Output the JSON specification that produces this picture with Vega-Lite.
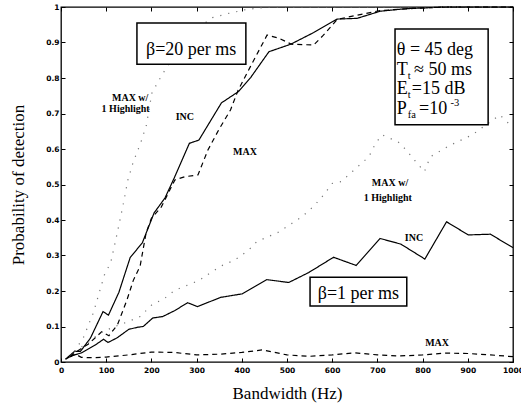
{
  "$schema": "https://vega.github.io/schema/vega-lite/v6.json",
  "width": 452,
  "height": 355,
  "autosize": {"type": "none"},
  "padding": {"left": 61, "top": 7, "right": 8, "bottom": 48},
  "background": "white",
  "config": {
    "view": {"stroke": "black", "strokeWidth": 1.3},
    "font": "Liberation Serif"
  },
  "datasets": {
    "curves": [
      {"beta": "20", "method": "INC", "bw": 10, "pd": 0.008},
      {"beta": "20", "method": "INC", "bw": 30, "pd": 0.03},
      {"beta": "20", "method": "INC", "bw": 43, "pd": 0.03},
      {"beta": "20", "method": "INC", "bw": 65, "pd": 0.067},
      {"beta": "20", "method": "INC", "bw": 93, "pd": 0.142},
      {"beta": "20", "method": "INC", "bw": 105, "pd": 0.132},
      {"beta": "20", "method": "INC", "bw": 128, "pd": 0.196},
      {"beta": "20", "method": "INC", "bw": 153, "pd": 0.294},
      {"beta": "20", "method": "INC", "bw": 180, "pd": 0.336},
      {"beta": "20", "method": "INC", "bw": 206, "pd": 0.42},
      {"beta": "20", "method": "INC", "bw": 230, "pd": 0.462},
      {"beta": "20", "method": "INC", "bw": 250, "pd": 0.517},
      {"beta": "20", "method": "INC", "bw": 284, "pd": 0.616},
      {"beta": "20", "method": "INC", "bw": 305, "pd": 0.625},
      {"beta": "20", "method": "INC", "bw": 355, "pd": 0.73},
      {"beta": "20", "method": "INC", "bw": 393, "pd": 0.762},
      {"beta": "20", "method": "INC", "bw": 420, "pd": 0.802},
      {"beta": "20", "method": "INC", "bw": 460, "pd": 0.874},
      {"beta": "20", "method": "INC", "bw": 508, "pd": 0.895},
      {"beta": "20", "method": "INC", "bw": 559, "pd": 0.928},
      {"beta": "20", "method": "INC", "bw": 611, "pd": 0.966},
      {"beta": "20", "method": "INC", "bw": 655, "pd": 0.968},
      {"beta": "20", "method": "INC", "bw": 706, "pd": 0.988},
      {"beta": "20", "method": "INC", "bw": 760, "pd": 0.995},
      {"beta": "20", "method": "INC", "bw": 850, "pd": 1.0},
      {"beta": "20", "method": "INC", "bw": 1000, "pd": 1.0},

      {"beta": "20", "method": "MAX", "bw": 20, "pd": 0.015},
      {"beta": "20", "method": "MAX", "bw": 35, "pd": 0.03},
      {"beta": "20", "method": "MAX", "bw": 60, "pd": 0.05},
      {"beta": "20", "method": "MAX", "bw": 90, "pd": 0.085},
      {"beta": "20", "method": "MAX", "bw": 106, "pd": 0.074},
      {"beta": "20", "method": "MAX", "bw": 125, "pd": 0.105},
      {"beta": "20", "method": "MAX", "bw": 146, "pd": 0.175},
      {"beta": "20", "method": "MAX", "bw": 160, "pd": 0.23},
      {"beta": "20", "method": "MAX", "bw": 175, "pd": 0.27},
      {"beta": "20", "method": "MAX", "bw": 188, "pd": 0.362},
      {"beta": "20", "method": "MAX", "bw": 200, "pd": 0.405},
      {"beta": "20", "method": "MAX", "bw": 222, "pd": 0.437},
      {"beta": "20", "method": "MAX", "bw": 252, "pd": 0.513},
      {"beta": "20", "method": "MAX", "bw": 274, "pd": 0.522},
      {"beta": "20", "method": "MAX", "bw": 303, "pd": 0.527},
      {"beta": "20", "method": "MAX", "bw": 325, "pd": 0.597},
      {"beta": "20", "method": "MAX", "bw": 349, "pd": 0.654},
      {"beta": "20", "method": "MAX", "bw": 375, "pd": 0.71},
      {"beta": "20", "method": "MAX", "bw": 392, "pd": 0.766},
      {"beta": "20", "method": "MAX", "bw": 419, "pd": 0.832},
      {"beta": "20", "method": "MAX", "bw": 456, "pd": 0.921},
      {"beta": "20", "method": "MAX", "bw": 482, "pd": 0.912},
      {"beta": "20", "method": "MAX", "bw": 510, "pd": 0.895},
      {"beta": "20", "method": "MAX", "bw": 559, "pd": 0.893},
      {"beta": "20", "method": "MAX", "bw": 580, "pd": 0.92},
      {"beta": "20", "method": "MAX", "bw": 611, "pd": 0.965},
      {"beta": "20", "method": "MAX", "bw": 655, "pd": 0.977},
      {"beta": "20", "method": "MAX", "bw": 706, "pd": 0.99},
      {"beta": "20", "method": "MAX", "bw": 780, "pd": 0.996},
      {"beta": "20", "method": "MAX", "bw": 850, "pd": 1.0},
      {"beta": "20", "method": "MAX", "bw": 1000, "pd": 1.0},

      {"beta": "20", "method": "MAX w/ 1 Highlight", "bw": 30, "pd": 0.03},
      {"beta": "20", "method": "MAX w/ 1 Highlight", "bw": 50, "pd": 0.07},
      {"beta": "20", "method": "MAX w/ 1 Highlight", "bw": 72, "pd": 0.14},
      {"beta": "20", "method": "MAX w/ 1 Highlight", "bw": 96, "pd": 0.245},
      {"beta": "20", "method": "MAX w/ 1 Highlight", "bw": 110, "pd": 0.28},
      {"beta": "20", "method": "MAX w/ 1 Highlight", "bw": 123, "pd": 0.355},
      {"beta": "20", "method": "MAX w/ 1 Highlight", "bw": 137, "pd": 0.44},
      {"beta": "20", "method": "MAX w/ 1 Highlight", "bw": 148, "pd": 0.513},
      {"beta": "20", "method": "MAX w/ 1 Highlight", "bw": 159, "pd": 0.56},
      {"beta": "20", "method": "MAX w/ 1 Highlight", "bw": 177, "pd": 0.62},
      {"beta": "20", "method": "MAX w/ 1 Highlight", "bw": 189, "pd": 0.668},
      {"beta": "20", "method": "MAX w/ 1 Highlight", "bw": 201, "pd": 0.757},
      {"beta": "20", "method": "MAX w/ 1 Highlight", "bw": 215, "pd": 0.79},
      {"beta": "20", "method": "MAX w/ 1 Highlight", "bw": 250, "pd": 0.865},
      {"beta": "20", "method": "MAX w/ 1 Highlight", "bw": 282, "pd": 0.915},
      {"beta": "20", "method": "MAX w/ 1 Highlight", "bw": 312, "pd": 0.949},
      {"beta": "20", "method": "MAX w/ 1 Highlight", "bw": 335, "pd": 0.97},
      {"beta": "20", "method": "MAX w/ 1 Highlight", "bw": 371, "pd": 0.982},
      {"beta": "20", "method": "MAX w/ 1 Highlight", "bw": 410, "pd": 0.993},
      {"beta": "20", "method": "MAX w/ 1 Highlight", "bw": 460, "pd": 1.0},
      {"beta": "20", "method": "MAX w/ 1 Highlight", "bw": 1000, "pd": 1.0},

      {"beta": "1", "method": "INC", "bw": 10, "pd": 0.008},
      {"beta": "1", "method": "INC", "bw": 25, "pd": 0.018},
      {"beta": "1", "method": "INC", "bw": 46, "pd": 0.026},
      {"beta": "1", "method": "INC", "bw": 76, "pd": 0.048},
      {"beta": "1", "method": "INC", "bw": 94, "pd": 0.064},
      {"beta": "1", "method": "INC", "bw": 104, "pd": 0.055},
      {"beta": "1", "method": "INC", "bw": 124, "pd": 0.068},
      {"beta": "1", "method": "INC", "bw": 150, "pd": 0.092},
      {"beta": "1", "method": "INC", "bw": 170, "pd": 0.098},
      {"beta": "1", "method": "INC", "bw": 182, "pd": 0.1},
      {"beta": "1", "method": "INC", "bw": 203, "pd": 0.124},
      {"beta": "1", "method": "INC", "bw": 225, "pd": 0.128},
      {"beta": "1", "method": "INC", "bw": 252, "pd": 0.145},
      {"beta": "1", "method": "INC", "bw": 280, "pd": 0.167},
      {"beta": "1", "method": "INC", "bw": 302, "pd": 0.156},
      {"beta": "1", "method": "INC", "bw": 353, "pd": 0.182},
      {"beta": "1", "method": "INC", "bw": 401, "pd": 0.192},
      {"beta": "1", "method": "INC", "bw": 455, "pd": 0.232},
      {"beta": "1", "method": "INC", "bw": 504, "pd": 0.224},
      {"beta": "1", "method": "INC", "bw": 548, "pd": 0.252},
      {"beta": "1", "method": "INC", "bw": 603, "pd": 0.295},
      {"beta": "1", "method": "INC", "bw": 653, "pd": 0.272},
      {"beta": "1", "method": "INC", "bw": 706, "pd": 0.348},
      {"beta": "1", "method": "INC", "bw": 752, "pd": 0.332},
      {"beta": "1", "method": "INC", "bw": 805, "pd": 0.29},
      {"beta": "1", "method": "INC", "bw": 853, "pd": 0.395},
      {"beta": "1", "method": "INC", "bw": 901, "pd": 0.358},
      {"beta": "1", "method": "INC", "bw": 950, "pd": 0.36},
      {"beta": "1", "method": "INC", "bw": 1000, "pd": 0.322},

      {"beta": "1", "method": "MAX", "bw": 20, "pd": 0.015},
      {"beta": "1", "method": "MAX", "bw": 32, "pd": 0.022},
      {"beta": "1", "method": "MAX", "bw": 45, "pd": 0.013},
      {"beta": "1", "method": "MAX", "bw": 70, "pd": 0.012},
      {"beta": "1", "method": "MAX", "bw": 100, "pd": 0.014},
      {"beta": "1", "method": "MAX", "bw": 150, "pd": 0.02},
      {"beta": "1", "method": "MAX", "bw": 200, "pd": 0.028},
      {"beta": "1", "method": "MAX", "bw": 250, "pd": 0.027},
      {"beta": "1", "method": "MAX", "bw": 300, "pd": 0.02},
      {"beta": "1", "method": "MAX", "bw": 350, "pd": 0.022},
      {"beta": "1", "method": "MAX", "bw": 400, "pd": 0.027},
      {"beta": "1", "method": "MAX", "bw": 445, "pd": 0.034},
      {"beta": "1", "method": "MAX", "bw": 500, "pd": 0.02},
      {"beta": "1", "method": "MAX", "bw": 550, "pd": 0.016},
      {"beta": "1", "method": "MAX", "bw": 600, "pd": 0.02},
      {"beta": "1", "method": "MAX", "bw": 650, "pd": 0.026},
      {"beta": "1", "method": "MAX", "bw": 700, "pd": 0.02},
      {"beta": "1", "method": "MAX", "bw": 750, "pd": 0.017},
      {"beta": "1", "method": "MAX", "bw": 800, "pd": 0.02},
      {"beta": "1", "method": "MAX", "bw": 850, "pd": 0.025},
      {"beta": "1", "method": "MAX", "bw": 900, "pd": 0.024},
      {"beta": "1", "method": "MAX", "bw": 950, "pd": 0.02},
      {"beta": "1", "method": "MAX", "bw": 1000, "pd": 0.015},

      {"beta": "1", "method": "MAX w/ 1 Highlight", "bw": 30, "pd": 0.03},
      {"beta": "1", "method": "MAX w/ 1 Highlight", "bw": 60, "pd": 0.055},
      {"beta": "1", "method": "MAX w/ 1 Highlight", "bw": 85, "pd": 0.08},
      {"beta": "1", "method": "MAX w/ 1 Highlight", "bw": 115, "pd": 0.098},
      {"beta": "1", "method": "MAX w/ 1 Highlight", "bw": 147, "pd": 0.113},
      {"beta": "1", "method": "MAX w/ 1 Highlight", "bw": 175, "pd": 0.128},
      {"beta": "1", "method": "MAX w/ 1 Highlight", "bw": 204, "pd": 0.165},
      {"beta": "1", "method": "MAX w/ 1 Highlight", "bw": 225, "pd": 0.175},
      {"beta": "1", "method": "MAX w/ 1 Highlight", "bw": 252, "pd": 0.202},
      {"beta": "1", "method": "MAX w/ 1 Highlight", "bw": 306, "pd": 0.23},
      {"beta": "1", "method": "MAX w/ 1 Highlight", "bw": 330, "pd": 0.251},
      {"beta": "1", "method": "MAX w/ 1 Highlight", "bw": 355, "pd": 0.271},
      {"beta": "1", "method": "MAX w/ 1 Highlight", "bw": 384, "pd": 0.287},
      {"beta": "1", "method": "MAX w/ 1 Highlight", "bw": 415, "pd": 0.315},
      {"beta": "1", "method": "MAX w/ 1 Highlight", "bw": 433, "pd": 0.339},
      {"beta": "1", "method": "MAX w/ 1 Highlight", "bw": 480, "pd": 0.365},
      {"beta": "1", "method": "MAX w/ 1 Highlight", "bw": 534, "pd": 0.41},
      {"beta": "1", "method": "MAX w/ 1 Highlight", "bw": 560, "pd": 0.44},
      {"beta": "1", "method": "MAX w/ 1 Highlight", "bw": 582, "pd": 0.472},
      {"beta": "1", "method": "MAX w/ 1 Highlight", "bw": 600, "pd": 0.503},
      {"beta": "1", "method": "MAX w/ 1 Highlight", "bw": 620, "pd": 0.508},
      {"beta": "1", "method": "MAX w/ 1 Highlight", "bw": 652, "pd": 0.545},
      {"beta": "1", "method": "MAX w/ 1 Highlight", "bw": 681, "pd": 0.578},
      {"beta": "1", "method": "MAX w/ 1 Highlight", "bw": 696, "pd": 0.616},
      {"beta": "1", "method": "MAX w/ 1 Highlight", "bw": 710, "pd": 0.64},
      {"beta": "1", "method": "MAX w/ 1 Highlight", "bw": 746, "pd": 0.62},
      {"beta": "1", "method": "MAX w/ 1 Highlight", "bw": 764, "pd": 0.597},
      {"beta": "1", "method": "MAX w/ 1 Highlight", "bw": 785, "pd": 0.564},
      {"beta": "1", "method": "MAX w/ 1 Highlight", "bw": 804, "pd": 0.536},
      {"beta": "1", "method": "MAX w/ 1 Highlight", "bw": 817, "pd": 0.578},
      {"beta": "1", "method": "MAX w/ 1 Highlight", "bw": 860, "pd": 0.61},
      {"beta": "1", "method": "MAX w/ 1 Highlight", "bw": 910, "pd": 0.64},
      {"beta": "1", "method": "MAX w/ 1 Highlight", "bw": 971, "pd": 0.696},
      {"beta": "1", "method": "MAX w/ 1 Highlight", "bw": 1000, "pd": 0.66}
    ],
    "boxes": [
      {"name": "beta20", "x0": 168, "x1": 409, "y0": 0.839, "y1": 0.955},
      {"name": "beta1", "x0": 551, "x1": 765, "y0": 0.158, "y1": 0.239},
      {"name": "params", "x0": 739, "x1": 945, "y0": 0.668, "y1": 0.938}
    ],
    "boxTitles": [
      {"label": "β=20 per ms", "bw": 288, "pd": 0.866},
      {"label": "β=1 per ms", "bw": 658, "pd": 0.177}
    ],
    "paramText": [
      {"label": "θ = 45 deg", "bw": 743, "pd": 0.864},
      {"label": "T", "bw": 743, "pd": 0.809},
      {"label": "≈ 50 ms", "bw": 781, "pd": 0.809},
      {"label": "E", "bw": 743, "pd": 0.756},
      {"label": "=15 dB", "bw": 776, "pd": 0.756},
      {"label": "P", "bw": 743, "pd": 0.700},
      {"label": "=10", "bw": 792, "pd": 0.700}
    ],
    "smallText": [
      {"label": "t", "bw": 767, "pd": 0.798},
      {"label": "t", "bw": 767, "pd": 0.745},
      {"label": "fa", "bw": 767, "pd": 0.687},
      {"label": "-3", "bw": 862, "pd": 0.722}
    ],
    "curveLabels": [
      {"label": "MAX w/", "bw": 153, "pd": 0.744},
      {"label": "1 Highlight", "bw": 143, "pd": 0.712},
      {"label": "INC", "bw": 274, "pd": 0.69},
      {"label": "MAX", "bw": 407, "pd": 0.592},
      {"label": "MAX w/", "bw": 728, "pd": 0.504},
      {"label": "1 Highlight", "bw": 723, "pd": 0.462},
      {"label": "INC", "bw": 781, "pd": 0.349},
      {"label": "MAX", "bw": 832, "pd": 0.054}
    ]
  },
  "resolve": {"axis": {"x": "independent", "y": "independent"}},
  "layer": [
    {
      "data": {"name": "curves"},
      "mark": {"type": "line", "strokeWidth": 1.2},
      "encoding": {
        "x": {
          "field": "bw", "type": "quantitative",
          "scale": {"domain": [0, 1000], "nice": false},
          "axis": {
            "title": "Bandwidth (Hz)", "values": [0, 100, 200, 300, 400, 500, 600, 700, 800, 900, 1000],
            "format": "d",
            "grid": false, "domain": false, "tickColor": "black", "tickSize": -4, "tickWidth": 1,
            "labelPadding": 8, "labelFont": "DejaVu Sans", "labelFontWeight": "bold", "labelFontSize": 7.5,
            "labelColor": "black", "labelFlush": false,
            "titleFont": "Liberation Serif", "titleFontSize": 17, "titleFontWeight": "normal",
            "titleColor": "black", "titlePadding": 12
          }
        },
        "y": {
          "field": "pd", "type": "quantitative",
          "scale": {"domain": [0, 1], "nice": false},
          "axis": {
            "title": "Probability of detection", "values": [0, 0.1, 0.2, 0.3, 0.4, 0.5, 0.6, 0.7, 0.8, 0.9, 1],
            "labelExpr": "datum.value == 0 ? '0' : datum.value == 1 ? '1' : format(datum.value, '.1f')",
            "grid": false, "domain": false, "tickColor": "black", "tickSize": -4, "tickWidth": 1,
            "labelPadding": 6, "labelFont": "DejaVu Sans", "labelFontWeight": "bold", "labelFontSize": 7.5,
            "labelColor": "black", "labelFlush": false,
            "titleFont": "Liberation Serif", "titleFontSize": 17, "titleFontWeight": "normal",
            "titleColor": "black", "titlePadding": 18
          }
        },
        "detail": {"field": "beta"},
        "color": {
          "field": "method", "type": "nominal",
          "scale": {"domain": ["INC", "MAX", "MAX w/ 1 Highlight"], "range": ["#000000", "#000000", "#777777"]},
          "legend": null
        },
        "strokeDash": {
          "field": "method", "type": "nominal",
          "scale": {"domain": ["INC", "MAX", "MAX w/ 1 Highlight"], "range": [[1, 0], [5, 4], [1.2, 7]]},
          "legend": null
        }
      }
    },
    {
      "data": {"name": "curves"},
      "mark": {"type": "line", "opacity": 0},
      "encoding": {
        "x": {
          "field": "bw", "type": "quantitative",
          "axis": {"orient": "top", "title": null, "labels": false, "grid": false, "domain": false,
                   "values": [0, 100, 200, 300, 400, 500, 600, 700, 800, 900, 1000],
                   "tickColor": "black", "tickSize": -4, "tickWidth": 1}
        },
        "y": {
          "field": "pd", "type": "quantitative",
          "axis": {"orient": "right", "title": null, "labels": false, "grid": false, "domain": false,
                   "values": [0, 0.1, 0.2, 0.3, 0.4, 0.5, 0.6, 0.7, 0.8, 0.9, 1],
                   "tickColor": "black", "tickSize": -4, "tickWidth": 1}
        },
        "detail": {"field": "beta"},
        "strokeDash": {"field": "method", "type": "nominal", "legend": null}
      }
    },
    {
      "data": {"name": "boxes"},
      "mark": {"type": "rect", "fill": "white", "stroke": "black", "strokeWidth": 1.5},
      "encoding": {
        "x": {"field": "x0", "type": "quantitative", "axis": null},
        "x2": {"field": "x1"},
        "y": {"field": "y0", "type": "quantitative", "axis": null},
        "y2": {"field": "y1"}
      }
    },
    {
      "data": {"name": "boxTitles"},
      "mark": {"type": "text", "font": "Liberation Serif", "fontSize": 18, "baseline": "alphabetic", "align": "center", "color": "black"},
      "encoding": {
        "x": {"field": "bw", "type": "quantitative", "axis": null},
        "y": {"field": "pd", "type": "quantitative", "axis": null},
        "text": {"field": "label"}
      }
    },
    {
      "data": {"name": "paramText"},
      "mark": {"type": "text", "font": "Liberation Serif", "fontSize": 18, "baseline": "alphabetic", "align": "left", "color": "black"},
      "encoding": {
        "x": {"field": "bw", "type": "quantitative", "axis": null},
        "y": {"field": "pd", "type": "quantitative", "axis": null},
        "text": {"field": "label"}
      }
    },
    {
      "data": {"name": "smallText"},
      "mark": {"type": "text", "font": "Liberation Serif", "fontSize": 10.5, "baseline": "alphabetic", "align": "left", "color": "black"},
      "encoding": {
        "x": {"field": "bw", "type": "quantitative", "axis": null},
        "y": {"field": "pd", "type": "quantitative", "axis": null},
        "text": {"field": "label"}
      }
    },
    {
      "data": {"name": "curveLabels"},
      "mark": {"type": "text", "font": "Liberation Serif", "fontSize": 10, "fontWeight": "bold", "baseline": "middle", "align": "center", "color": "black"},
      "encoding": {
        "x": {"field": "bw", "type": "quantitative", "axis": null},
        "y": {"field": "pd", "type": "quantitative", "axis": null},
        "text": {"field": "label"}
      }
    }
  ]
}
